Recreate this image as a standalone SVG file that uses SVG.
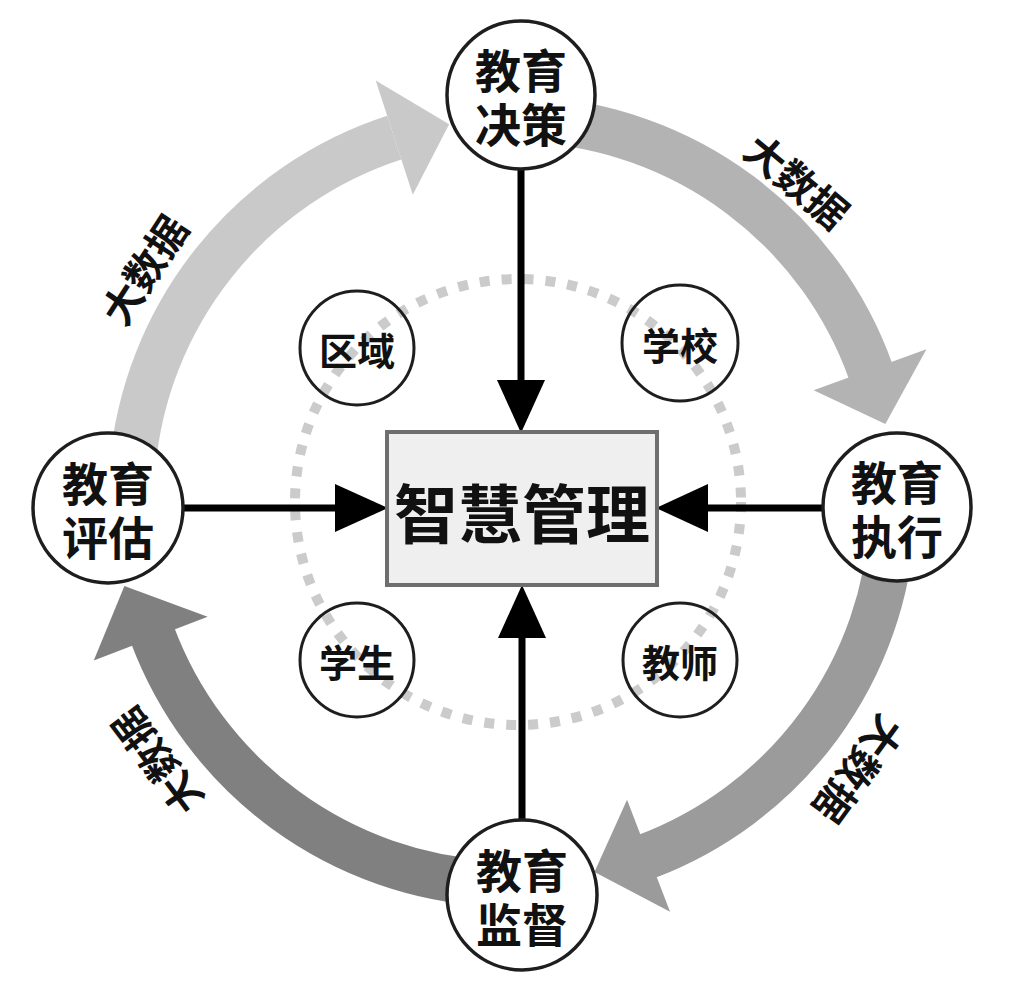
<svg xmlns="http://www.w3.org/2000/svg" width="1014" height="1000" viewBox="0 0 1014 1000">
<style>
.band{fill:none;stroke-width:46;stroke-linecap:butt}
.node{fill:#ffffff;stroke:#1e1e1e;stroke-width:3.5}
.sub{fill:none;stroke:#1e1e1e;stroke-width:3}
.t{font-family:"Noto Sans CJK SC","Noto Sans",sans-serif;font-weight:700;fill:#111;text-anchor:middle;dominant-baseline:central}
.nt{font-size:46px}
.st{font-size:38px}
.bt{font-size:40px}
.ct{font-size:64px}
.ln{stroke:#000;stroke-width:7;fill:none}
</style>
<rect width="1014" height="1000" fill="#ffffff"/>
<g id="ring">
<circle cx="518" cy="502" r="223" fill="none" stroke="#cbcbcb" stroke-width="10" stroke-dasharray="10 12"/>
</g>
<g id="cycle">
<path class="band" stroke="#c9c9c9" d="M 132.45 466.79 A 381 381 0 0 1 394.26 137.65"/>
<polygon fill="#c9c9c9" points="412.8,194.71 375.72,80.58 449.12,124.22"/>
<path class="band" stroke="#b3b3b3" d="M 531.94 119.52 A 381 381 0 0 1 871.15 372.82"/>
<polygon fill="#b3b3b3" points="813.64,390.21 926.4,349.17 885.35,424.04"/>
<path class="band" stroke="#9b9b9b" d="M 892.48 519.94 A 381 381 0 0 1 645.43 856.87"/>
<polygon fill="#9b9b9b" points="627.04,799.68 670.04,911.71 594.46,871.97"/>
<path class="band" stroke="#808080" d="M 491.9 883.47 A 384 384 0 0 1 152.32 634.48"/>
<polygon fill="#808080" points="207.65,616.83 93.76,660.55 124.41,585.93"/>
</g>
<g id="labels">
<text class="t bt" transform="translate(143,269) rotate(-57)">大数据</text>
<text class="t bt" transform="translate(798,180) rotate(40)">大数据</text>
<text class="t bt" transform="translate(860,770) rotate(126)">大数据</text>
<text class="t bt" transform="translate(156,762) rotate(-127)">大数据</text>
</g>
<g id="connectors">
<line class="ln" x1="521" y1="168" x2="521" y2="390"/>
<polygon points="497,380 545,380 521,433" fill="#000"/>
<line class="ln" x1="183" y1="508" x2="345" y2="508"/>
<polygon points="335,484 335,532 388,508" fill="#000"/>
<line class="ln" x1="822" y1="508" x2="698" y2="508"/>
<polygon points="708,484 708,532 656,508" fill="#000"/>
<line class="ln" x1="522" y1="820" x2="522" y2="628"/>
<polygon points="498,638 546,638 522,585" fill="#000"/>
</g>
<g id="center">
<rect x="387" y="432" width="270" height="153" fill="#efefef" stroke="#6e6e6e" stroke-width="4"/>
<text class="t ct" x="522" y="510">智慧管理</text>
</g>
<g id="node-top">
<circle class="node" cx="521" cy="95" r="74"/>
<text class="t nt"><tspan x="521" y="68">教育</tspan><tspan x="521" y="122">决策</tspan></text>
</g>
<g id="node-left">
<circle class="node" cx="108" cy="508" r="75"/>
<text class="t nt"><tspan x="108" y="481">教育</tspan><tspan x="108" y="535">评估</tspan></text>
</g>
<g id="node-right">
<circle class="node" cx="897" cy="507" r="74"/>
<text class="t nt"><tspan x="897" y="480">教育</tspan><tspan x="897" y="534">执行</tspan></text>
</g>
<g id="node-bottom">
<circle class="node" cx="522" cy="895" r="75"/>
<text class="t nt"><tspan x="522" y="868">教育</tspan><tspan x="522" y="922">监督</tspan></text>
</g>
<g id="sub-region">
<circle class="sub" cx="357" cy="348" r="57"/>
<text class="t st" x="357" y="348">区域</text>
</g>
<g id="sub-school">
<circle class="sub" cx="680" cy="343" r="58"/>
<text class="t st" x="680" y="343">学校</text>
</g>
<g id="sub-student">
<circle class="sub" cx="357" cy="660" r="57"/>
<text class="t st" x="357" y="660">学生</text>
</g>
<g id="sub-teacher">
<circle class="sub" cx="680" cy="660" r="57"/>
<text class="t st" x="680" y="660">教师</text>
</g>
</svg>
